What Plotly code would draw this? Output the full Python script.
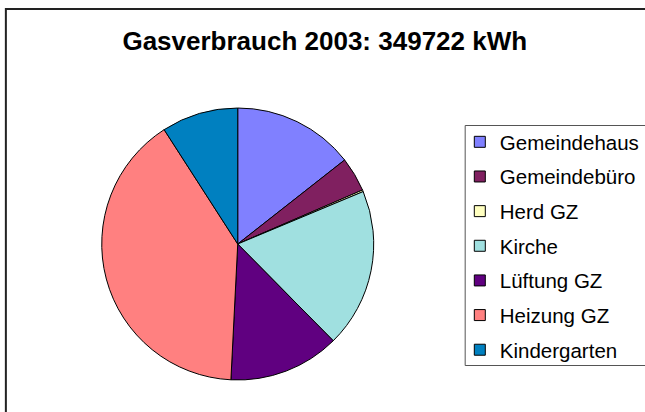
import plotly.graph_objects as go

W, H = 645, 412

title_text = "Gasverbrauch 2003: 349722 kWh"
labels = ["Gemeindehaus", "Gemeindebüro", "Herd GZ", "Kirche", "Lüftung GZ", "Heizung GZ", "Kindergarten"]
values_kwh = [50360, 14339, 699, 66097, 46163, 140238, 31826]
colors = ["#8080FF", "#802060", "#FFFFC0", "#A0E0E0", "#600080", "#FF8080", "#0080C0"]


def px_x(v):
    return v / W


def px_y(v):
    return 1 - v / H


fig = go.Figure()
fig.add_trace(
    go.Pie(
        labels=labels,
        values=values_kwh,
        sort=False,
        direction="clockwise",
        rotation=0,
        marker=dict(colors=colors, line=dict(color="#000000", width=1)),
        textinfo="none",
        hoverinfo="label+value+percent",
        showlegend=False,
        domain=dict(x=[px_x(104), px_x(382)], y=[px_y(383), px_y(105)]),
    )
)

# legend entries (one per slice, so that the row spacing can be set)
for lab, col in zip(labels, colors):
    fig.add_trace(
        go.Scatter(
            x=[None], y=[None], mode="markers", name=lab, legendgroup=lab,
            marker=dict(symbol="square", size=11, color=col,
                        line=dict(color="#000000", width=1)),
            hoverinfo="skip",
        )
    )

fig.update_layout(
    width=W,
    height=H,
    margin=dict(l=0, r=0, t=0, b=0),
    paper_bgcolor="#FFFFFF",
    plot_bgcolor="#FFFFFF",
    font=dict(family="Liberation Sans, Arial, sans-serif", color="#000000"),
    xaxis=dict(visible=False),
    yaxis=dict(visible=False),
    title=dict(
        text="<b>" + title_text + "</b>",
        x=px_x(332),
        xanchor="center",
        xref="paper",
        y=px_y(41),
        yref="paper",
        yanchor="middle",
        font=dict(size=26, family="Liberation Sans, Arial, sans-serif", color="#000000"),
    ),
    legend=dict(
        x=px_x(470),
        xanchor="left",
        y=px_y(122),
        yanchor="top",
        font=dict(size=20.5, family="Liberation Sans, Arial, sans-serif", color="#000000"),
        bgcolor="rgba(0,0,0,0)",
        borderwidth=0,
        tracegroupgap=5,
        traceorder="grouped",
    ),
    shapes=[
        dict(type="rect", xref="paper", yref="paper",
             x0=px_x(6), x1=px_x(700), y0=px_y(9), y1=px_y(450),
             line=dict(color="#222222", width=2), fillcolor="rgba(0,0,0,0)"),
        dict(type="rect", xref="paper", yref="paper",
             x0=px_x(475.5), x1=px_x(700), y0=px_y(125.5), y1=px_y(365.5),
             line=dict(color="#555555", width=1), fillcolor="rgba(0,0,0,0)"),
    ],
)

fig.write_html(
    "out.html",
    config={"displayModeBar": False},
    post_script="document.body.style.margin='0';document.body.style.overflow='hidden';",
)
